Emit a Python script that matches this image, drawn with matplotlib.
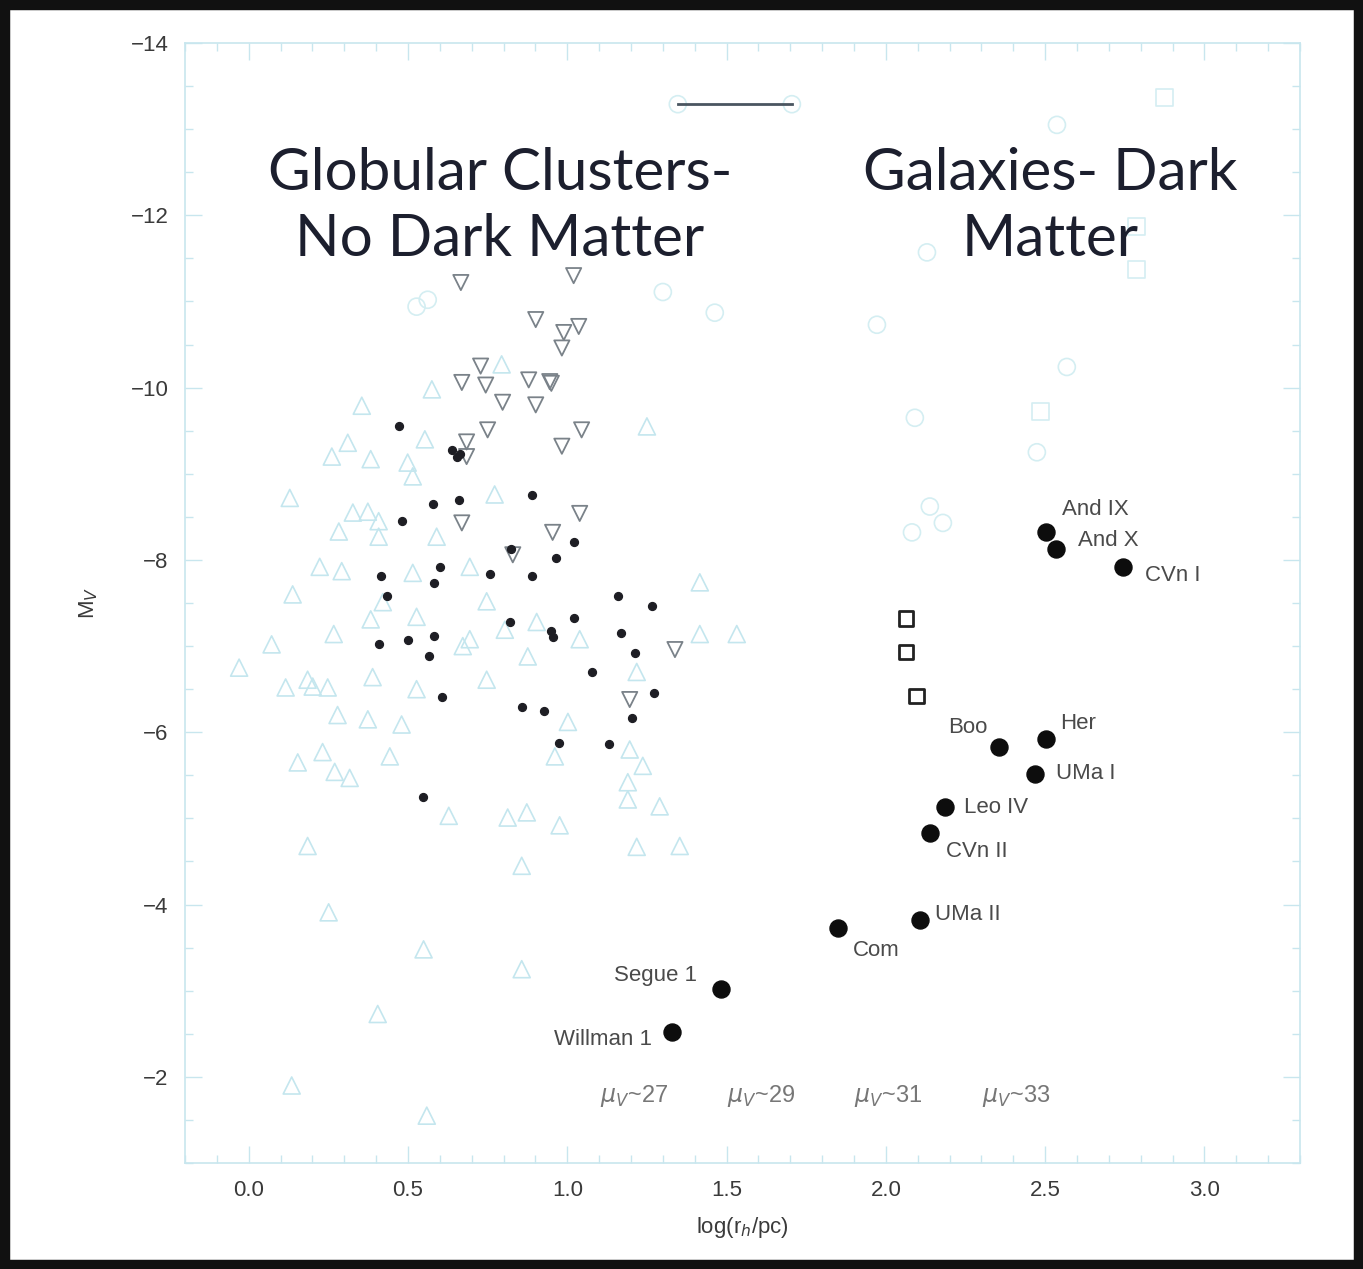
import numpy as np
import matplotlib
matplotlib.use('Agg')
import matplotlib.pyplot as plt
from matplotlib.patches import Rectangle
from matplotlib.ticker import MultipleLocator

# globular clusters (light upward triangles)
gc_x = [-0.03, 0.072, 0.129, 0.138, 0.116, 0.185, 0.201, 0.248, 0.154, 0.232, 0.270, 0.317,
        0.443, 0.185, 0.251, 0.549, 0.857, 0.857, 0.405, 0.135, 0.559, 0.223, 0.292, 0.515,
        0.747, 0.694, 0.267, 0.421, 0.383, 0.389, 0.374, 0.279, 0.480, 0.527, 0.672, 0.694,
        0.876, 1.039, 0.747, 0.804, 0.904, 0.628, 0.813, 0.873, 0.976, 1.002, 0.355, 0.311,
        0.261, 0.383, 0.499, 0.515, 0.553, 0.327, 0.374, 0.408, 0.408, 0.590, 0.283, 0.527,
        0.575, 0.794, 0.772, 1.218, 1.196, 1.237, 1.190, 1.190, 1.290, 0.961, 1.218, 1.353,
        1.250, 1.416, 1.416, 1.532]
gc_y = [-6.75, -7.02, -8.72, -7.60, -6.52, -6.61, -6.53, -6.52, -5.65, -5.77, -5.54, -5.47,
        -5.72, -4.68, -3.91, -3.48, -4.45, -3.25, -2.73, -1.90, -1.55, -7.92, -7.87, -7.85,
        -7.52, -7.92, -7.14, -7.51, -7.31, -6.64, -6.15, -6.20, -6.09, -6.50, -7.00, -7.08,
        -6.88, -7.08, -6.61, -7.19, -7.28, -5.03, -5.01, -5.07, -4.92, -6.12, -9.79, -9.36,
        -9.20, -9.17, -9.13, -8.97, -9.40, -8.55, -8.56, -8.45, -8.27, -8.27, -8.33, -7.34,
        -9.98, -10.27, -8.76, -6.70, -5.80, -5.61, -5.42, -5.22, -5.14, -5.72, -4.67, -4.68,
        -9.55, -7.74, -7.14, -7.14]

# inverted triangles
inv_x = [0.666, 1.020, 0.901, 0.989, 1.036, 0.983, 0.728, 0.669, 0.744, 0.879, 0.945, 0.950,
         0.797, 0.901, 0.750, 1.045, 0.983, 0.684, 0.684, 0.669, 1.039, 0.954, 0.829, 1.338,
         1.196]
inv_y = [-11.22, -11.30, -10.79, -10.64, -10.71, -10.46, -10.25, -10.06, -10.03, -10.09, -10.07, -10.05,
         -9.83, -9.80, -9.51, -9.51, -9.32, -9.37, -9.20, -8.43, -8.54, -8.32, -8.06, -6.96,
         -6.38]

# small black dots
dot_x = [0.471, 0.637, 0.662, 0.653, 0.659, 0.578, 0.889, 0.480, 0.823, 1.020, 0.964, 0.600,
         0.414, 0.581, 0.757, 0.889, 0.433, 1.159, 1.265, 0.820, 1.020, 0.948, 0.955, 1.168,
         0.408, 0.499, 0.581, 0.565, 1.212, 1.077, 0.606, 1.272, 0.857, 0.926, 1.203, 0.973,
         1.130, 0.546]
dot_y = [-9.56, -9.28, -9.23, -9.19, -8.70, -8.65, -8.75, -8.45, -8.13, -8.21, -8.02, -7.92,
         -7.81, -7.73, -7.84, -7.81, -7.58, -7.58, -7.46, -7.28, -7.33, -7.17, -7.11, -7.15,
         -7.03, -7.07, -7.12, -6.88, -6.92, -6.70, -6.41, -6.45, -6.29, -6.25, -6.17, -5.88,
         -5.86, -5.25]

# classical dwarfs (light open circles / squares)
circ_x = [0.527, 0.562, 1.300, 1.463, 1.347, 1.705, 2.537, 2.129, 1.972, 2.568, 2.091, 2.474,
          2.138, 2.179, 2.082]
circ_y = [-10.94, -11.02, -11.11, -10.87, -13.29, -13.29, -13.05, -11.57, -10.73, -10.24, -9.65, -9.25,
          -8.62, -8.43, -8.32]
lsq_x = [2.876, 2.788, 2.788, 2.484]
lsq_y = [-13.37, -11.87, -11.37, -9.72]

# black open squares
sq_x = [2.063, 2.063, 2.097]
sq_y = [-7.32, -6.93, -6.42]

# new ultra-faint satellites
names = ['Willman 1', 'Segue 1', 'Com', 'UMa II', 'CVn II', 'Leo IV', 'UMa I', 'Boo', 'Her',
         'And IX', 'And X', 'CVn I']
uf_x = [1.328, 1.482, 1.849, 2.107, 2.138, 2.185, 2.468, 2.355, 2.502, 2.502, 2.534, 2.744]
uf_y = [-2.52, -3.02, -3.73, -3.82, -4.83, -5.13, -5.52, -5.83, -5.92, -8.33, -8.13, -7.92]
# label offsets in points (dx, dy) and alignment
lab_off = [(-14, -5, 'right'), (-17, 10, 'right'), (11, -16, 'left'), (11, 4, 'left'),
           (12, -13, 'left'), (14, 0, 'left'), (15, 0, 'left'), (-8, 14, 'right'),
           (10, 11, 'left'), (12, 16, 'left'), (16, 6, 'left'), (16, -6, 'left')]

mu_x = [1.21, 1.61, 2.006, 2.41]
mu_lab = ['27', '29', '31', '33']

cyan = '#c4e6ee'
axcol = '#c8e6ee'

fig = plt.figure(figsize=(13.63, 12.69), dpi=100)
ax = fig.add_axes([0.1357, 0.0835, 0.8181, 0.8826])

ax.scatter(gc_x, gc_y, marker='^', s=150, facecolors='none', edgecolors=cyan, linewidths=1.2)
ax.scatter(circ_x, circ_y, marker='o', s=150, facecolors='none', edgecolors='#d4eef2', linewidths=1.2)
ax.scatter(lsq_x, lsq_y, marker='s', s=150, facecolors='none', edgecolors='#d4eef2', linewidths=1.2)
ax.scatter(inv_x, inv_y, marker='v', s=120, facecolors='none', edgecolors='#7a8289', linewidths=1.3)
ax.scatter(dot_x, dot_y, marker='o', s=32, color='#1e1e24')
ax.scatter(sq_x, sq_y, marker='s', s=110, facecolors='none', edgecolors='#222', linewidths=2)
ax.scatter(uf_x, uf_y, marker='o', s=150, color='#0d0d0d')

ax.plot([circ_x[4], circ_x[5]], [circ_y[4], circ_y[5]], color='#4a5560', lw=2)

for n, x, y, (dx, dy, ha) in zip(names, uf_x, uf_y, lab_off):
    ax.annotate(n, (x, y), xytext=(dx, dy), textcoords='offset points', ha=ha, va='center',
                fontsize=16, color='#4a4a4a', family='Liberation Sans')

for x, t in zip(mu_x, mu_lab):
    ax.text(x, -1.78, r'$\mu_V$~' + t, ha='center', va='center', fontsize=17, color='#777777',
            family='Liberation Sans')

ax.text(0.788, -12.1, 'Globular Clusters-\nNo Dark Matter', ha='center', va='center',
        fontsize=42, family='Lato', fontweight='normal', color='#1c1f2e', linespacing=1.3)
ax.text(2.515, -12.1, 'Galaxies- Dark\nMatter', ha='center', va='center',
        fontsize=42, family='Lato', fontweight='normal', color='#1c1f2e', linespacing=1.3)

ax.set_xlim(-0.2, 3.3)
ax.set_ylim(-1, -14)
ax.set_xticks([0.0, 0.5, 1.0, 1.5, 2.0, 2.5, 3.0])
ax.set_yticks([-14, -12, -10, -8, -6, -4, -2])
ax.set_yticklabels(['\u221214', '\u221212', '\u221210', '\u22128', '\u22126', '\u22124', '\u22122'])
ax.xaxis.set_minor_locator(MultipleLocator(0.1))
ax.yaxis.set_minor_locator(MultipleLocator(0.5))
ax.tick_params(which='both', direction='in', top=True, right=True, color=axcol,
               labelcolor='#3a3a3a', labelsize=16, pad=12)
ax.tick_params(which='major', length=12, width=1)
ax.tick_params(which='minor', length=6, width=1)
for lbl in ax.get_xticklabels() + ax.get_yticklabels():
    lbl.set_family('Liberation Sans')
for s in ax.spines.values():
    s.set_color(axcol)
    s.set_linewidth(1.2)

ax.set_xlabel(r'log(r$_h$/pc)', fontsize=16, color='#3a3a3a', family='Liberation Sans', labelpad=10)
ax.set_ylabel(r'M$_V$', fontsize=16, color='#3a3a3a', family='Liberation Sans', labelpad=22)

fig.patches.append(Rectangle((0, 0), 1, 1, transform=fig.transFigure, fill=False,
                             edgecolor='#111111', linewidth=14))

fig.savefig('out.png', dpi=100)
